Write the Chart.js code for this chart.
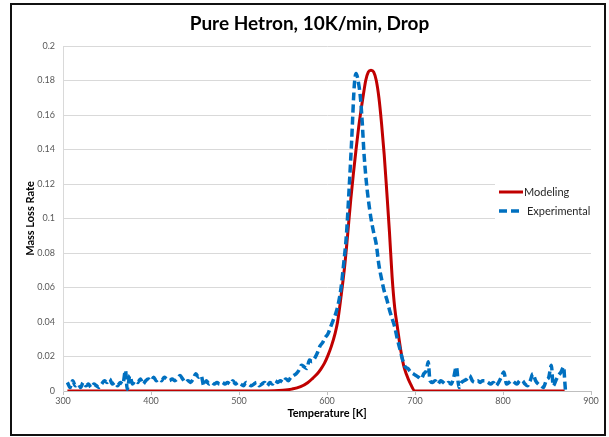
<!DOCTYPE html>
<html>
<head>
<meta charset="utf-8">
<script src="https://cdn.jsdelivr.net/npm/chart.js@4.4.1/dist/chart.umd.min.js"></script>
<style>
  html, body { margin: 0; padding: 0; background: #fff; }
  #wrap { width: 609px; height: 437px; }
</style>
</head>
<body>
<div id="wrap"><canvas id="chart" width="609" height="437"></canvas></div>
<script>
const chartTitle = 'Pure Hetron, 10K/min, Drop';
const seriesNames = ['Modeling', 'Experimental'];
const xTitle = 'Temperature [K]';
const yTitle = 'Mass Loss Rate';

const xTicks = [300, 400, 500, 600, 700, 800, 900];
const yTicks = [0, 0.02, 0.04, 0.06, 0.08, 0.1, 0.12, 0.14, 0.16, 0.18, 0.2];

// modeling curve
const modelTemp = [
  305, 520, 540, 550, 560, 570, 578, 584, 589, 593,
  597, 601, 605, 609, 612, 616, 620, 623, 627, 630,
  633, 636, 639, 642, 644, 647, 650, 653, 656, 659,
  662, 665, 668, 671, 674, 677, 680, 684, 687, 690,
  695, 700, 870
];
const modelRate = [
  0, 0, 0.0001, 0.0004, 0.0011, 0.0025, 0.0048, 0.0075, 0.0100, 0.0127,
  0.016, 0.0205, 0.026, 0.033, 0.040, 0.055, 0.072, 0.088, 0.111, 0.126,
  0.140, 0.153, 0.164, 0.174, 0.180, 0.185, 0.186, 0.185, 0.180, 0.170,
  0.155, 0.137, 0.115, 0.092, 0.066, 0.048, 0.037, 0.023, 0.015, 0.010,
  0.004, 0, 0
];

// experimental trace
const expTemp = [
  305, 308, 311, 314, 317, 320, 323, 326, 329, 332,
  335, 338, 341, 344, 347, 350, 353, 356, 359, 362,
  365, 368, 371, 373, 376, 379, 382, 385, 388, 391,
  394, 397, 400, 403, 406, 409, 412, 415, 418, 421,
  424, 427, 430, 433, 436, 439, 442, 445, 448, 451,
  454, 457, 460, 463, 466, 469, 472, 475, 478, 481,
  484, 487, 490, 493, 496, 499, 502, 505, 508, 511,
  514, 517, 520, 523, 526, 529, 532, 535, 538, 541,
  544, 547, 550, 553, 556, 559, 562, 565, 568, 571,
  574, 577, 580, 583, 586, 589, 592, 595, 598, 601,
  604, 607, 610, 613, 616, 619, 622, 625, 628, 631,
  633, 636, 638, 640, 642, 644, 646, 648, 650, 653,
  656, 659, 662, 665, 668, 671, 674, 677, 680, 683,
  686, 689, 692, 695, 698, 701, 704, 707, 710, 713,
  715, 717, 720, 723, 726, 729, 732, 735, 738, 741,
  744, 747, 750, 753, 756, 759, 762, 765, 768, 771,
  774, 777, 780, 783, 786, 789, 792, 795, 798, 801,
  804, 807, 810, 813, 816, 819, 822, 825, 828, 831,
  834, 837, 840, 843, 846, 849, 852, 855, 857, 860,
  863, 866, 869, 870, 871
];
const expRate = [
  0.005, 0.002, 0.006, 0.003, 0.004, 0.002, 0.005, 0.003, 0.004, 0.002,
  0.004, 0.003, 0.002, 0.004, 0.006, 0.005, 0.007, 0.004, 0.005, 0.003,
  0.005, 0.004, 0.012, 0.001, 0.009, 0.004, 0.006, 0.005, 0.007, 0.004,
  0.006, 0.007, 0.006, 0.008, 0.006, 0.007, 0.006, 0.008, 0.007, 0.006,
  0.007, 0.006, 0.007, 0.009, 0.007, 0.005, 0.006, 0.005, 0.007, 0.010,
  0.008, 0.009, 0.003, 0.006, 0.004, 0.005, 0.004, 0.005, 0.004, 0.005,
  0.004, 0.005, 0.004, 0.006, 0.004, 0.005, 0.004, 0.003, 0.005, 0.004,
  0.003, 0.004, 0.005, 0.003, 0.004, 0.005, 0.003, 0.005, 0.004, 0.006,
  0.005, 0.006, 0.005, 0.007, 0.006, 0.008, 0.009, 0.010, 0.012, 0.015,
  0.014, 0.013, 0.018, 0.017, 0.019, 0.022, 0.026, 0.028, 0.031, 0.033,
  0.037, 0.041, 0.045, 0.051, 0.060, 0.074, 0.090, 0.116, 0.145, 0.177,
  0.184, 0.178, 0.170, 0.156, 0.138, 0.125, 0.115, 0.107, 0.100, 0.092,
  0.085, 0.073, 0.065, 0.058, 0.053, 0.047, 0.042, 0.037, 0.030, 0.024,
  0.018, 0.014, 0.013, 0.011, 0.010, 0.009, 0.008, 0.007, 0.010, 0.012,
  0.017, 0.006, 0.005, 0.006, 0.004, 0.006, 0.005, 0.004, 0.005, 0.004,
  0.008, 0.014, 0.002, 0.005, 0.006, 0.007, 0.009, 0.006, 0.005, 0.006,
  0.005, 0.006, 0.006, 0.005, 0.004, 0.005, 0.003, 0.005, 0.008, 0.011,
  0.004, 0.005, 0.006, 0.005, 0.004, 0.006, 0.006, 0.004, 0.003, 0.006,
  0.010, 0.006, 0.004, 0.003, 0.002, 0.006, 0.008, 0.015, 0.003, 0.006,
  0.009, 0.011, 0.014, 0.007, 0.000
];

const RED = '#c00000';
const BLUE = '#0070c0';
const FONT = 'Lato, "Open Sans", "Liberation Sans", sans-serif';

const toPoints = (xs, ys) => xs.map((x, i) => ({ x: x, y: ys[i] }));

// white page, black frame, title and the overlaid legend
const frame = {
  id: 'frame',
  beforeDraw(chart) {
    const ctx = chart.ctx;
    ctx.save();
    ctx.fillStyle = '#fff';
    ctx.fillRect(0, 0, chart.width, chart.height);
    ctx.restore();
  },
  afterDraw(chart) {
    const ctx = chart.ctx;
    const area = chart.chartArea;
    ctx.save();
    ctx.strokeStyle = '#111';
    ctx.lineWidth = 2;
    ctx.strokeRect(11, 4, chart.width - 15, chart.height - 6);

    ctx.fillStyle = '#000';
    ctx.font = 'bold 19px ' + FONT;
    ctx.textAlign = 'center';
    ctx.textBaseline = 'middle';
    ctx.fillText(chartTitle, chart.width / 2 + 5, 24);

    // legend
    const lx = area.right - 92;
    const rows = [
      { y: area.top + 146, color: RED, dash: [], width: 3, gap: 1 },
      { y: area.top + 165, color: BLUE, dash: [8, 4], width: 3.5, gap: 4 }
    ];
    ctx.fillStyle = '#fff';
    ctx.fillRect(lx - 4, area.top + 134, area.right - lx + 6, 42);
    ctx.font = '11px ' + FONT;
    ctx.textAlign = 'left';
    rows.forEach((r, i) => {
      ctx.beginPath();
      ctx.setLineDash(r.dash);
      ctx.strokeStyle = r.color;
      ctx.lineWidth = r.width;
      ctx.moveTo(lx, r.y);
      ctx.lineTo(lx + 24, r.y);
      ctx.stroke();
      ctx.setLineDash([]);
      ctx.fillStyle = '#262626';
      ctx.fillText(seriesNames[i], lx + 24 + r.gap, r.y);
    });
    ctx.restore();
  }
};

new Chart(document.getElementById('chart'), {
  type: 'line',
  data: {
    datasets: [
      {
        label: seriesNames[0],
        data: toPoints(modelTemp, modelRate),
        borderColor: RED,
        borderWidth: 3,
        pointRadius: 0,
        cubicInterpolationMode: 'monotone',
        order: 1
      },
      {
        label: seriesNames[1],
        data: toPoints(expTemp, expRate),
        borderColor: BLUE,
        borderWidth: 3.5,
        borderDash: [8, 4],
        pointRadius: 0,
        cubicInterpolationMode: 'monotone',
        order: 0
      }
    ]
  },
  options: {
    responsive: false,
    animation: false,
    layout: { padding: { top: 46, right: 18, bottom: 0, left: 0 } },
    plugins: {
      legend: { display: false },
      title: { display: false },
      tooltip: { enabled: false }
    },
    scales: {
      x: {
        type: 'linear',
        min: 300,
        max: 900,
        afterBuildTicks: s => { s.ticks = xTicks.map(v => ({ value: v })); },
        afterFit: s => { s.height = 46; },
        border: { color: '#bfbfbf', width: 1 },
        grid: { drawOnChartArea: false, drawTicks: true, tickLength: 4, color: '#bfbfbf' },
        ticks: { color: '#595959', font: { family: FONT, size: 9 }, padding: 1, maxRotation: 0 },
        title: {
          display: true,
          text: xTitle,
          color: '#000',
          font: { family: FONT, size: 11, weight: 'bold' },
          padding: { top: 0, bottom: 17 }
        }
      },
      y: {
        min: 0,
        max: 0.2,
        afterBuildTicks: s => { s.ticks = yTicks.map(v => ({ value: v })); },
        afterFit: s => { s.width = 63; },
        border: { color: '#d9d9d9', width: 1 },
        grid: { color: '#d9d9d9', drawTicks: false },
        ticks: {
          color: '#595959',
          font: { family: FONT, size: 9 },
          padding: 8,
          callback: v => String(+v.toFixed(2))
        },
        title: {
          display: true,
          text: yTitle,
          color: '#000',
          font: { family: FONT, size: 11, weight: 'bold' },
          padding: { top: 24, bottom: 0 }
        }
      }
    }
  },
  plugins: [frame]
});
</script>
</body>
</html>
